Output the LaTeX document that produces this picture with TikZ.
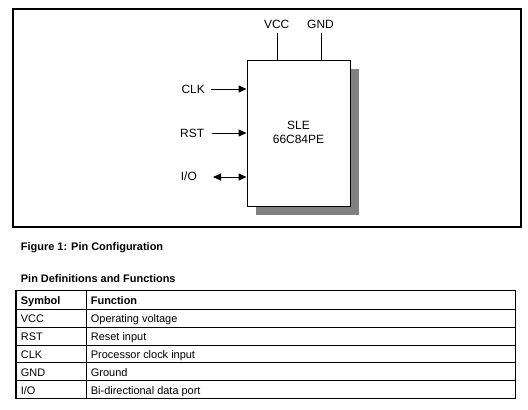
\documentclass[tikz,border=0pt]{standalone}
\usepackage{fontspec}
\setmainfont{Liberation Sans}
\usetikzlibrary{arrows.meta}
\begin{document}
\begin{tikzpicture}[x=1bp,y=-1bp,
  lbl/.style={font=\fontsize{12}{14}\selectfont, inner sep=0pt},
  cell/.style={font=\fontsize{11}{13}\selectfont, inner sep=0pt, anchor=base west},
  hcell/.style={font=\bfseries\fontsize{11}{13}\selectfont, inner sep=0pt, anchor=base west},
  pin/.style={line width=1bp},
  arr/.style={line width=1bp, -{Triangle[length=8bp,width=7bp]}},
  darr/.style={line width=1bp, {Triangle[length=8bp,width=7bp]}-{Triangle[length=8bp,width=7bp]}},
  frame/.style={line width=1.3bp},
  tline/.style={line width=1.1bp},
  box/.style={minimum width=103bp, minimum height=146bp, inner sep=0pt}]
\useasboundingbox (0,0) rectangle (528,409);
\fill[white] (0,0) rectangle (528,409);
% frame
\draw[frame] (13,9) rectangle (521,227);
% chip with shadow
\node[box, fill=gray] (shadow) at (307.5,142) {};
\node[box, draw, fill=white, line width=1bp] (chip) at (298.5,133) {};
\node[lbl, anchor=base] (sle) at (298.5,129) {SLE};
\node[lbl, anchor=base] (part) at (298.5,143.3) {66C84PE};
% top pins
\node[lbl, anchor=base] (vcc) at (276.7,28.3) {VCC};
\node[lbl, anchor=base] (gnd) at (320.5,28.3) {GND};
\coordinate (vcctop) at (277,33);
\coordinate (gndtop) at (321,33);
\draw[pin] (vcctop) -- (vcctop |- chip.north);
\draw[pin] (gndtop) -- (gndtop |- chip.north);
% left pins
\node[lbl, anchor=base east] (clk) at (205,93.3) {CLK};
\node[lbl, anchor=base east] (rst) at (204.3,137) {RST};
\node[lbl, anchor=base east] (io) at (197,180.7) {I/O};
\coordinate (clkend) at (211,89);
\coordinate (rstend) at (212,133);
\coordinate (ioend) at (213,177);
\draw[arr] (clkend) -- (clkend -| chip.west);
\draw[arr] (rstend) -- (rstend -| chip.west);
\draw[darr] (ioend) -- (ioend -| chip.west);
% captions
\node[hcell] (fig) at (20.7,250) {Figure 1: Pin Configuration};
\node[hcell] (pdf) at (20.7,282.3) {Pin Definitions and Functions};
% table
\draw[tline] (16,290.3) rectangle (515.3,398.3);
\foreach \y in {309.3,327.3,345.3,362.3,380.3} \draw[tline] (16,\y) -- (515.3,\y);
\draw[tline] (86.3,290.3) -- (86.3,398.3);
\node[hcell] (h1) at (20.7,304.5) {Symbol};
\node[hcell] (h2) at (90.7,304.5) {Function};
\node[cell] (s1) at (20.7,322.7) {VCC};
\node[cell] (f1) at (90.7,322.7) {Operating voltage};
\node[cell] (s2) at (20.7,340.5) {RST};
\node[cell] (f2) at (90.7,340.5) {Reset input};
\node[cell] (s3) at (20.7,358.3) {CLK};
\node[cell] (f3) at (90.7,358.3) {Processor clock input};
\node[cell] (s4) at (20.7,376) {GND};
\node[cell] (f4) at (90.7,376) {Ground};
\node[cell] (s5) at (20.7,394) {I/O};
\node[cell] (f5) at (90.7,394) {Bi-directional data port};
\end{tikzpicture}
\end{document}
